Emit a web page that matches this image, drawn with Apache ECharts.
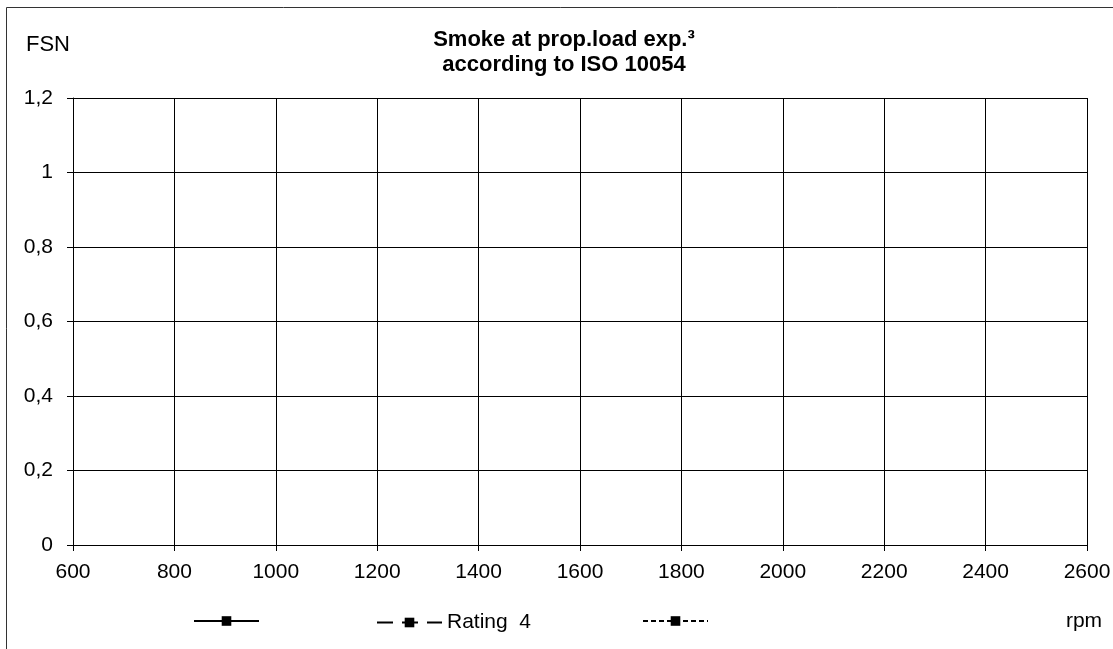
<!DOCTYPE html>
<html>
<head>
<meta charset="utf-8">
<script src="https://cdn.jsdelivr.net/npm/echarts@6/dist/echarts.min.js"></script>
<style>
  html, body { margin: 0; padding: 0; background: #fff; }
  #smoke { width: 1113px; height: 649px; }
</style>
</head>
<body>
<div id="smoke"></div>
<script>
// no measured points in the source sheet, only the empty frame
const rpmMin = 600, rpmMax = 2600, rpmStep = 200;
const fsnMin = 0, fsnMax = 1.2, fsnStep = 0.2;
const seriesNames = ['Line 1', 'Rating  4', 'Line 3'];
const line1Data = [];
const rating4Data = [];
const line3Data = [];

const fontFam = '"Liberation Sans", Arial, sans-serif';
const ink = '#000';

let myChart = echarts.init(document.getElementById('smoke'));

// one legend per series, names 1 and 3 are not printed
function legendAt(name, left, top, showText) {
    return {
        data: [name],
        left: left,
        top: top,
        padding: 0,
        itemWidth: 65,
        itemHeight: 12,
        itemGap: 0,
        selectedMode: false,
        formatter: showText ? null : function () { return ''; },
        textStyle: { color: ink, fontSize: 21, fontFamily: fontFam },
        lineStyle: { width: 2 }
    };
}

myChart.setOption({
    backgroundColor: '#fff',
    animation: false,
    title: {
        text: 'Smoke at prop.load exp.³\naccording to ISO 10054',
        left: 564,
        top: 27,
        padding: 0,
        textAlign: 'center',
        textStyle: {
            color: ink,
            fontSize: 22,
            fontWeight: 'bold',
            fontFamily: fontFam,
            lineHeight: 25
        }
    },
    legend: [
        legendAt(seriesNames[0], 193, 615, false),
        legendAt(seriesNames[1], 376, 612, true),
        legendAt(seriesNames[2], 642, 615, false)
    ],
    grid: {
        left: 73,
        right: 26,
        top: 98,
        bottom: 104,
        outerBoundsMode: 'none'
    },
    xAxis: {
        type: 'value',
        min: rpmMin,
        max: rpmMax,
        interval: rpmStep,
        axisLine: { lineStyle: { color: ink, width: 1 } },
        axisTick: { show: true, length: 6, lineStyle: { color: ink } },
        splitLine: { show: true, lineStyle: { color: ink, width: 1 } },
        axisLabel: {
            color: ink,
            fontSize: 21,
            fontFamily: fontFam,
            margin: 17,
            formatter: function (v) { return String(v); }
        }
    },
    yAxis: {
        type: 'value',
        min: fsnMin,
        max: fsnMax,
        interval: fsnStep,
        axisLine: { show: true, lineStyle: { color: ink, width: 1 } },
        axisTick: { show: true, length: 6, lineStyle: { color: ink } },
        splitLine: { show: true, lineStyle: { color: ink, width: 1 } },
        axisLabel: {
            color: ink,
            fontSize: 21,
            fontFamily: fontFam,
            margin: 20,
            formatter: function (v) {
                return String(Math.round(v * 10) / 10).replace('.', ',');
            }
        }
    },
    graphic: [
        {
            type: 'rect',
            silent: true,
            shape: { x: 6.5, y: 7.5, width: 1200, height: 1000 },
            style: { fill: 'none', stroke: '#333', lineWidth: 1 }
        },
        {
            type: 'text',
            x: 26,
            y: 45,
            style: { text: 'FSN', fill: ink, fontSize: 22, fontFamily: fontFam, verticalAlign: 'middle' }
        },
        {
            type: 'text',
            x: 1084,
            y: 621,
            style: { text: 'rpm', fill: ink, fontSize: 21, fontFamily: fontFam, align: 'center', verticalAlign: 'middle' }
        }
    ],
    series: [
        {
            name: seriesNames[0],
            type: 'line',
            symbol: 'rect',
            symbolSize: 9,
            itemStyle: { color: ink },
            lineStyle: { color: ink, width: 2, type: 'solid' },
            data: line1Data
        },
        {
            name: seriesNames[1],
            type: 'line',
            symbol: 'rect',
            symbolSize: 9,
            itemStyle: { color: ink },
            lineStyle: { color: ink, width: 2, type: [16, 9] },
            data: rating4Data
        },
        {
            name: seriesNames[2],
            type: 'line',
            symbol: 'rect',
            symbolSize: 9,
            itemStyle: { color: ink },
            lineStyle: { color: ink, width: 2, type: [5, 3] },
            data: line3Data
        }
    ]
});
</script>
</body>
</html>
